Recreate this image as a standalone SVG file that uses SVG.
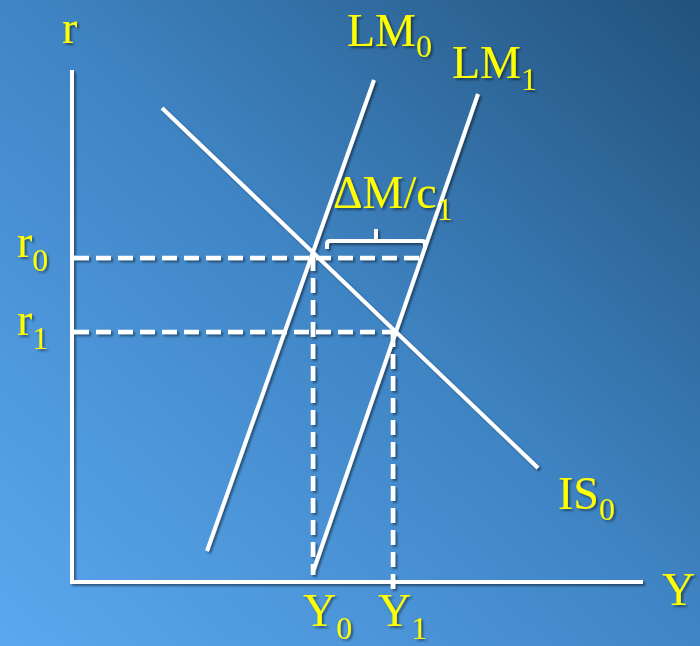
<svg xmlns="http://www.w3.org/2000/svg" width="700" height="646" viewBox="0 0 700 646">
  <defs>
    <linearGradient id="bg" x1="0" y1="1" x2="1" y2="0">
      <stop offset="0" stop-color="#5ba8f0"/>
      <stop offset="0.5" stop-color="#4086c6"/>
      <stop offset="1" stop-color="#22527b"/>
    </linearGradient>
    <filter id="sh" x="-20%" y="-20%" width="140%" height="140%">
      <feDropShadow dx="2" dy="2" stdDeviation="1.2" flood-color="#000" flood-opacity="0.45"/>
    </filter>
    <style>
      .ln { stroke: #ffffff; stroke-width: 4; fill: none; }
      .ds { stroke: #ffffff; stroke-width: 4.5; fill: none; stroke-dasharray: 15 7; }
      .t { font-family: "Liberation Serif", "Times New Roman", serif; font-size: 46px; fill: #ffff00; }
      .s { font-size: 32px; }
    </style>
  </defs>
  <rect width="700" height="646" fill="url(#bg)"/>

  <g id="connectors" filter="url(#sh)">
    <line id="y-axis" class="ln" x1="72" y1="70" x2="72" y2="583"/>
    <line id="x-axis" class="ln" x1="70" y1="582" x2="643" y2="582"/>
    <line id="IS0" class="ln" x1="162" y1="108" x2="538" y2="468"/>
    <line id="LM0" class="ln" x1="374" y1="80" x2="207" y2="551"/>
    <line id="LM1" class="ln" x1="478" y1="94" x2="313" y2="572"/>
    <line id="r0-dash" class="ds" x1="74" y1="258" x2="424" y2="258"/>
    <line id="r1-dash" class="ds" x1="74" y1="332" x2="396" y2="332"/>
    <line id="Y0-dash" class="ds" x1="313" y1="256" x2="313" y2="575"/>
    <line id="Y1-dash" class="ds" x1="393" y1="332" x2="393" y2="590"/>
    <path id="brace" class="ln" stroke-linejoin="round" d="M327,249 L327,244 Q327,241 330,241 L422,241 Q425,241 425,244 L425,249 M376,241 L376,229"/>
  </g>

  <g id="label-r" filter="url(#sh)"><text class="t" x="62" y="43">r</text></g>
  <g id="label-LM0" filter="url(#sh)"><text class="t" x="347" y="46">LM<tspan class="s" dy="11">0</tspan></text></g>
  <g id="label-LM1" filter="url(#sh)"><text class="t" x="452" y="78">LM<tspan class="s" dy="12">1</tspan></text></g>
  <g id="label-dM" filter="url(#sh)"><text class="t" x="333" y="208">ΔM/c<tspan class="s" dy="12">1</tspan></text></g>
  <g id="label-r0" filter="url(#sh)"><text class="t" x="17" y="257">r<tspan class="s" dy="14">0</tspan></text></g>
  <g id="label-r1" filter="url(#sh)"><text class="t" x="17" y="335">r<tspan class="s" dy="14">1</tspan></text></g>
  <g id="label-IS0" filter="url(#sh)"><text class="t" x="558" y="509">IS<tspan class="s" dy="11">0</tspan></text></g>
  <g id="label-Y" filter="url(#sh)"><text class="t" x="662" y="605">Y</text></g>
  <g id="label-Y0" filter="url(#sh)"><text class="t" x="303" y="626">Y<tspan class="s" dy="13">0</tspan></text></g>
  <g id="label-Y1" filter="url(#sh)"><text class="t" x="378" y="626">Y<tspan class="s" dy="13">1</tspan></text></g>
</svg>
